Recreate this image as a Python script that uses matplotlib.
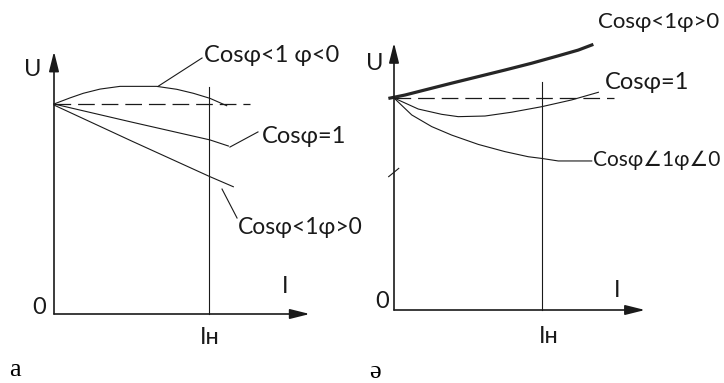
import numpy as np
import matplotlib.pyplot as plt

plt.rcParams['font.family'] = ['Lato', 'DejaVu Sans']
plt.rcParams['lines.scale_dashes'] = False

# panel a: U(I) curves, current in units of I_n, voltage in units of U_0
a_I_lead = [0, 0.103, 0.189, 0.297, 0.426, 0.662, 0.792, 0.899, 1.006, 1.114]
a_U_lead = [1.0, 1.029, 1.051, 1.071, 1.084, 1.084, 1.070, 1.051, 1.027, 0.992]
a_I_unit = [0, 0.5, 1.006, 1.125]
a_U_unit = [1.0, 0.914, 0.829, 0.80]
a_I_lag = [0, 0.5, 1.006, 1.157]
a_U_lag = [0.995, 0.824, 0.654, 0.606]
a_U_dash = 1.0
a_I_dash_end = 1.265

# panel ә
b_I_lag = [-0.038, 0.074, 0.209, 0.390, 0.570, 0.750, 0.930, 1.110, 1.245, 1.347]
b_U_lag = [0.998, 1.014, 1.038, 1.070, 1.101, 1.132, 1.164, 1.199, 1.226, 1.253]
b_I_unit = [0, 0.164, 0.322, 0.434, 0.615, 0.795, 0.998, 1.201, 1.381]
b_U_unit = [1.0, 0.948, 0.923, 0.912, 0.915, 0.933, 0.959, 0.991, 1.027]
b_I_lead = [0, 0.120, 0.255, 0.390, 0.570, 0.750, 0.907, 0.998, 1.110, 1.336]
b_U_lead = [1.0, 0.920, 0.865, 0.825, 0.781, 0.747, 0.723, 0.715, 0.703, 0.703]
b_U_dash = 1.0
b_I_dash_end = 1.486

I_nom = 1.0

lbl_lead = 'Cosφ<1 φ<0'
lbl_unit = 'Cosφ=1'
lbl_lag = 'Cosφ<1φ>0'
lbl_lead_b = 'Cosφ∠1φ∠0'

INK = '#1a1a1a'
FS = 17
FAM = ['Lato', 'DejaVu Sans']

fig = plt.figure(figsize=(7.24, 3.83), dpi=100)
ax_a = fig.add_axes([54 / 724, 69 / 383, 1.65 * 155 / 724, 1.25 * 210 / 383])
ax_b = fig.add_axes([394 / 724, 73 / 383, 1.696 * 148 / 724, 1.26 * 212 / 383])
ax_a.set_xlim(0, 1.65)
ax_a.set_ylim(0, 1.25)
ax_b.set_xlim(0, 1.696)
ax_b.set_ylim(0, 1.26)


def draw_axes(ax):
    ax.axis('off')
    x1 = ax.get_xlim()[1]
    y1 = ax.get_ylim()[1]
    arrow = dict(arrowstyle='-|>,head_length=1.2,head_width=0.3', lw=1.2,
                 color=INK, mutation_scale=10, shrinkA=0, shrinkB=0)
    ax.annotate('', xy=(x1, 0), xytext=(0, 0), arrowprops=arrow, annotation_clip=False)
    ax.annotate('', xy=(0, y1), xytext=(0, 0), arrowprops=arrow, annotation_clip=False)


txt = dict(color=INK, family=FAM, va='center', ha='left', clip_on=False)
sym = dict(fontsize=FS, color=INK, family=FAM, va='center', ha='center')
thin = dict(color=INK, lw=0.8, clip_on=False)

# ---- panel a ----
draw_axes(ax_a)
ax_a.plot([0, a_I_dash_end], [a_U_dash, a_U_dash], color=INK, lw=0.9, dashes=(12, 5))
ax_a.plot([I_nom, I_nom], [0, 1.081], **thin)
ax_a.plot(a_I_lead, a_U_lead, **thin)
ax_a.plot(a_I_unit, a_U_unit, **thin)
ax_a.plot(a_I_lag, a_U_lag, **thin)
ax_a.plot([0.671, 0.955], [1.084, 1.219], **thin)
ax_a.plot([1.135, 1.316], [0.795, 0.867], **thin)
ax_a.plot([1.084, 1.181], [0.595, 0.457], **thin)
ax_a.text(0.968, 1.233, lbl_lead, fontsize=FS, **txt)
ax_a.text(1.342, 0.843, lbl_unit, fontsize=FS, **txt)
ax_a.text(1.187, 0.414, lbl_lag, fontsize=16.5, **txt)
ax_a.text(-0.135, 1.162, 'U', **sym)
ax_a.text(1.49, 0.129, 'I', **sym)
ax_a.text(-0.097, 0.033, '0', **sym)
ax_a.text(1.006, -0.11, 'Iн', **sym)
ax_a.text(-0.25, -0.267, 'a', fontsize=19, color='black', family='Liberation Serif',
          ha='center', va='center')

# ---- panel ә ----
draw_axes(ax_b)
ax_b.plot([0, b_I_dash_end], [b_U_dash, b_U_dash], color=INK, lw=0.9, dashes=(12, 5))
ax_b.plot([I_nom, I_nom], [0, 1.075], **thin)
ax_b.plot(b_I_lag, b_U_lag, color='#262626', lw=2.3, clip_on=False, solid_capstyle='butt')
ax_b.plot(b_I_unit, b_U_unit, **thin)
ax_b.plot(b_I_lead, b_U_lead, **thin)
ax_b.plot([-0.036, 0.032], [0.629, 0.668], **thin)
ax_b.text(1.378, 1.358, lbl_lag, fontsize=16, **txt)
ax_b.text(1.426, 1.071, lbl_unit, fontsize=FS, **txt)
ax_b.text(1.345, 0.708, lbl_lead_b, fontsize=15, **txt)
ax_b.text(-0.128, 1.165, 'U', **sym)
ax_b.text(1.507, 0.094, 'I', **sym)
ax_b.text(-0.081, 0.038, '0', **sym)
ax_b.text(1.047, -0.127, 'Iн', **sym)
ax_b.text(-0.128, -0.292, 'ә', fontsize=19, color='black', family='Liberation Serif',
          ha='center', va='center')

fig.savefig('out.png', dpi=100)
